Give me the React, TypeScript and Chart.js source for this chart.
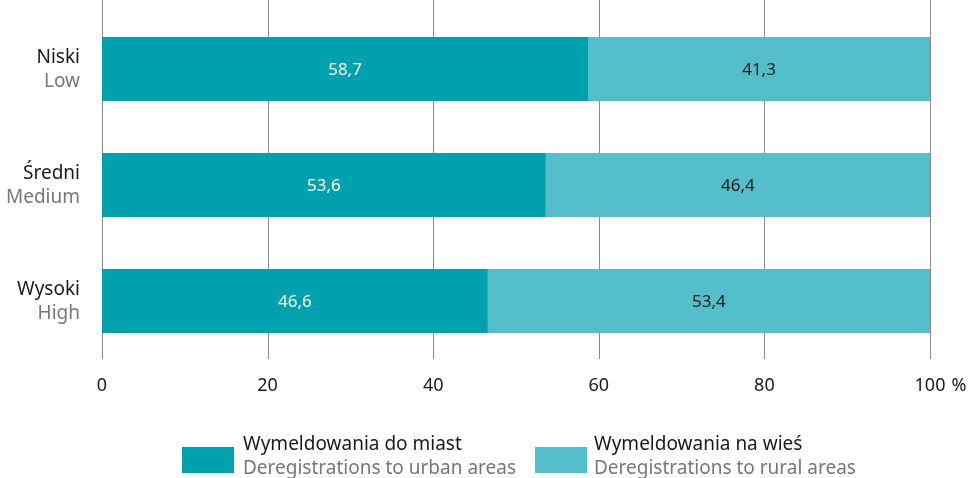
import React, { useEffect, useRef } from "react";
import { Chart, registerables } from "chart.js";
Chart.register(...registerables);

const categoriesPL = ["Niski", "Średni", "Wysoki"];
const categoriesEN = ["Low", "Medium", "High"];
const urban = [58.7, 53.6, 46.6];
const rural = [41.3, 46.4, 53.4];
const xTicks = [0, 20, 40, 60, 80, 100];
const unitLabel = "%";
const legendPL = ["Wymeldowania do miast", "Wymeldowania na wieś"];
const legendEN = ["Deregistrations to urban areas", "Deregistrations to rural areas"];
const colors = ["#00A1AF", "#54BFCA"];
const labelColors = ["#ffffff", "#1a1a1a"];

const FONT = "'Noto Sans', sans-serif";
const TICK_SIZE = 18;
const TICK_PAD = 8;

const fmt = (v: number) => v.toFixed(1).replace(".", ",");

const overlay = {
  id: "overlay",
  beforeDatasetsDraw(chart: any) {
    const { ctx, scales, chartArea } = chart;
    const x = scales.x;
    ctx.save();
    ctx.strokeStyle = "#8a8a8a";
    ctx.lineWidth = 1;
    xTicks.forEach((t) => {
      const px = Math.round(x.getPixelForValue(t)) + 0.5;
      ctx.beginPath();
      ctx.moveTo(px, 0);
      ctx.lineTo(px, chartArea.bottom);
      ctx.stroke();
    });
    ctx.restore();
  },
  afterDraw(chart: any) {
    const { ctx, scales } = chart;
    const y = scales.y;
    const x = scales.x;
    ctx.save();
    // unit after last tick, aligned with tick labels
    ctx.font = `${TICK_SIZE}px ${FONT}`;
    ctx.fillStyle = "#1a1a1a";
    ctx.textAlign = "left";
    const items0 = x.getLabelItems();
    const last = items0[items0.length - 1];
    ctx.textBaseline = last.options.textBaseline || "middle";
    const ly = last.options.translation[1] + (last.textOffset || 0);
    const lastPx = x.getPixelForValue(xTicks[xTicks.length - 1]);
    const w = ctx.measureText(String(xTicks[xTicks.length - 1])).width;
    ctx.fillText(unitLabel, lastPx + w / 2 + 6, ly);
    // y labels
    ctx.textAlign = "right";
    ctx.textBaseline = "middle";
    ctx.font = `19px ${FONT}`;
    categoriesPL.forEach((c, i) => {
      const py = y.getPixelForValue(i);
      ctx.fillStyle = "#1a1a1a";
      ctx.fillText(c, 80, py - 11);
      ctx.fillStyle = "#777777";
      ctx.fillText(categoriesEN[i], 80, py + 13);
    });
    // value labels
    ctx.textAlign = "center";
    ctx.font = `17px ${FONT}`;
    chart.data.datasets.forEach((ds: any, di: number) => {
      const meta = chart.getDatasetMeta(di);
      meta.data.forEach((bar: any, i: number) => {
        const cx = (bar.x + bar.base) / 2;
        ctx.fillStyle = labelColors[di];
        ctx.fillText(fmt(ds.data[i]), cx, bar.y + 1);
      });
    });
    // legend
    const items = [
      { sx: 182, tx: 243 },
      { sx: 535, tx: 594 },
    ];
    items.forEach((it, i) => {
      ctx.fillStyle = colors[i];
      ctx.fillRect(it.sx, 447, 52, 26);
      ctx.textAlign = "left";
      ctx.font = `19px ${FONT}`;
      ctx.fillStyle = "#1a1a1a";
      ctx.fillText(legendPL[i], it.tx, 445);
      ctx.fillStyle = "#777777";
      ctx.fillText(legendEN[i], it.tx, 469);
    });
    ctx.restore();
  },
};

export default function App() {
  const ref = useRef<HTMLCanvasElement>(null);
  useEffect(() => {
    const chart = new Chart(ref.current!, {
      type: "bar",
      data: {
        labels: categoriesPL,
        datasets: [
          { label: legendPL[0], data: urban, backgroundColor: colors[0], barPercentage: 0.552, categoryPercentage: 1 },
          { label: legendPL[1], data: rural, backgroundColor: colors[1], barPercentage: 0.552, categoryPercentage: 1 },
        ],
      },
      options: {
        indexAxis: "y",
        animation: false,
        responsive: false,
        maintainAspectRatio: false,
        layout: { padding: { left: 102, right: 41, top: 11, bottom: 0 } },
        plugins: { legend: { display: false }, tooltip: { enabled: false } },
        scales: {
          x: {
            stacked: true,
            min: 0,
            max: 100,
            afterBuildTicks: (s: any) => {
              s.ticks = xTicks.map((v) => ({ value: v }));
            },
            afterFit: (s: any) => {
              s.height = 119;
            },
            grid: { display: false },
            border: { display: false },
            ticks: {
              padding: TICK_PAD,
              color: "#1a1a1a",
              font: { family: FONT, size: TICK_SIZE, lineHeight: 1.2 },
              callback: (v: any) => String(v),
              maxRotation: 0,
            },
          },
          y: { stacked: true, display: false },
        },
      },
      plugins: [overlay],
    });
    return () => chart.destroy();
  }, []);
  return (
    <div style={{ position: "fixed", left: 0, top: 0, width: 971, height: 478, background: "#fff" }}>
      <canvas ref={ref} width={971} height={478} style={{ width: 971, height: 478 }} />
    </div>
  );
}
